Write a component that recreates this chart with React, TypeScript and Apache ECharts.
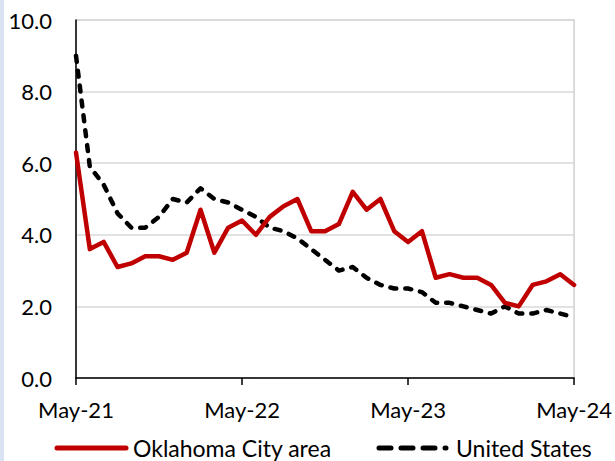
import React, { useEffect, useRef } from "react";
import * as echarts from "echarts";

const months = ["May", "Jun", "Jul", "Aug", "Sep", "Oct", "Nov", "Dec", "Jan", "Feb", "Mar", "Apr"];
const startYear = 21;
const categories: string[] = [];
for (let i = 0; i < 37; i++) {
  const m = months[i % 12];
  const y = startYear + Math.floor((i + 4) / 12);
  categories.push(`${m}-${y}`);
}

const okcSeriesName = "Oklahoma City area";
const usSeriesName = "United States";

const okcValues = [6.3, 3.6, 3.8, 3.1, 3.2, 3.4, 3.4, 3.3, 3.5, 4.7, 3.5, 4.2, 4.4, 4.0, 4.5, 4.8, 5.0, 4.1, 4.1, 4.3, 5.2, 4.7, 5.0, 4.1, 3.8, 4.1, 2.8, 2.9, 2.8, 2.8, 2.6, 2.1, 2.0, 2.6, 2.7, 2.9, 2.6];
const usValues = [9.0, 5.9, 5.4, 4.6, 4.2, 4.2, 4.5, 5.0, 4.9, 5.3, 5.0, 4.9, 4.7, 4.5, 4.2, 4.1, 3.9, 3.6, 3.3, 3.0, 3.1, 2.8, 2.6, 2.5, 2.5, 2.4, 2.1, 2.1, 2.0, 1.9, 1.8, 2.0, 1.8, 1.8, 1.9, 1.8, 1.7];

const yMin = 0;
const yMax = 10;
const yInterval = 2;

const FONT = "Lato";
const RED = "#c00000";

export default function App() {
  const ref = useRef<HTMLDivElement>(null);
  useEffect(() => {
    if (!ref.current) return;
    const chart = echarts.init(ref.current, null, { renderer: "svg" });
    chart.setOption({
      animation: false,
      backgroundColor: "#ffffff",
      textStyle: { fontFamily: FONT },
      graphic: [
        { type: "rect", left: 0, top: 0, shape: { width: 4, height: 461 }, style: { fill: "#dae3f3" }, silent: true },
        {
          type: "line",
          silent: true,
          shape: { x1: 57, y1: 448, x2: 126, y2: 448 },
          style: { stroke: RED, lineWidth: 5, lineCap: "round" },
        },
        {
          type: "text",
          silent: true,
          x: 133,
          y: 448,
          style: { text: okcSeriesName, fontSize: 23, fontFamily: FONT, fill: "#000", verticalAlign: "middle", align: "left" },
        },
        {
          type: "line",
          silent: true,
          shape: { x1: 379, y1: 448, x2: 446, y2: 448 },
          style: { stroke: "#000", lineWidth: 5, lineCap: "round", lineDash: [12, 10] },
        },
        {
          type: "text",
          silent: true,
          x: 456,
          y: 448,
          style: { text: usSeriesName, fontSize: 23, fontFamily: FONT, fill: "#000", verticalAlign: "middle", align: "left" },
        },
      ],
      grid: {
        left: 76,
        right: 39,
        top: 20,
        bottom: 83,
        show: true,
        borderColor: "#d0d0d0",
        borderWidth: 1.5,
        backgroundColor: "transparent",
      },
      xAxis: {
        type: "category",
        data: categories,
        boundaryGap: false,
        axisLine: { lineStyle: { color: "#000", width: 1.5 } },
        axisTick: { show: true, length: 7, interval: (i: number) => i % 12 === 0, lineStyle: { color: "#000", width: 1.5 } },
        axisLabel: {
          interval: (i: number) => i % 12 === 0,
          fontSize: 22,
          color: "#000",
          fontFamily: FONT,
          margin: 20,
        },
        splitLine: { show: false },
      },
      yAxis: {
        type: "value",
        min: yMin,
        max: yMax,
        interval: yInterval,
        axisLine: { show: true, lineStyle: { color: "#000", width: 1.5 } },
        axisTick: { show: false },
        axisLabel: {
          fontSize: 22,
          color: "#000",
          fontFamily: FONT,
          margin: 24,
          formatter: (v: number) => v.toFixed(1),
        },
        splitLine: { show: true, lineStyle: { color: "#d9d9d9", width: 1.5 } },
      },
      series: [
        {
          name: okcSeriesName,
          type: "line",
          data: okcValues,
          symbol: "none",
          lineStyle: { color: RED, width: 4.5, join: "round", cap: "round" },
          itemStyle: { color: RED },
          z: 3,
        },
        {
          name: usSeriesName,
          type: "line",
          data: usValues,
          symbol: "none",
          lineStyle: { color: "#000000", width: 4.5, type: [6, 9], cap: "round", join: "round" },
          itemStyle: { color: "#000000" },
          z: 2,
        },
      ],
    });
    return () => chart.dispose();
  }, []);
  return (
    <div
      ref={ref}
      style={{ position: "fixed", left: 0, top: 0, width: 615, height: 461 }}
    />
  );
}
